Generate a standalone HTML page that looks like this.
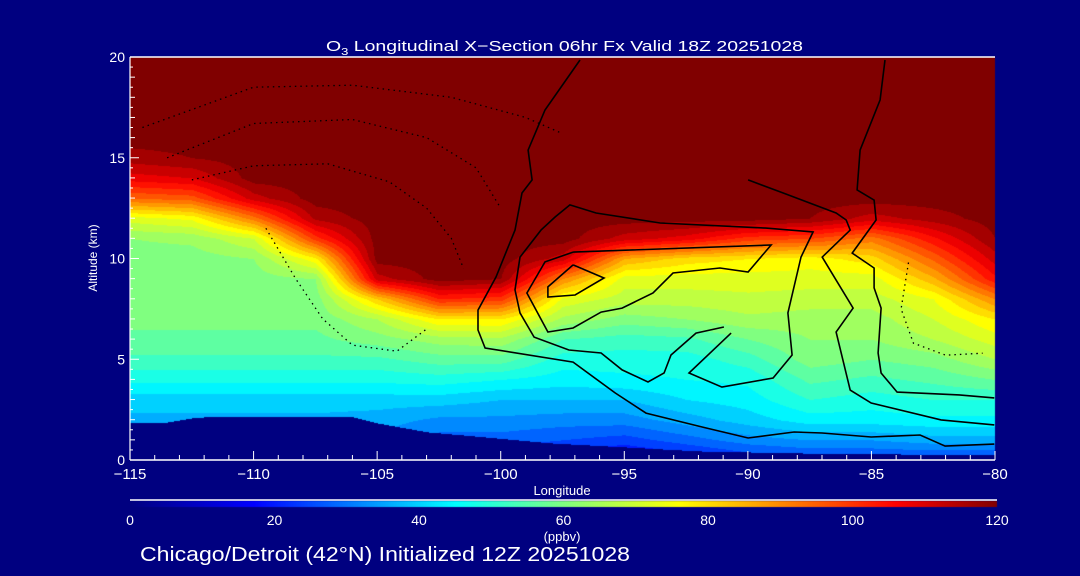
<!DOCTYPE html>
<html><head><meta charset="utf-8">
<style>
html,body{margin:0;padding:0;background:#000080;width:1080px;height:576px;overflow:hidden}
#wrap{position:relative;width:1080px;height:576px}
canvas,svg{position:absolute;left:0;top:0}
text{font-family:"Liberation Sans",sans-serif;fill:#fff}
</style></head>
<body>
<div id="wrap">
<canvas id="field" width="1080" height="576"></canvas>
<svg id="ov" width="1080" height="576"></svg>
</div>
<script>
// ---- data ----
const lons = [-115,-112.5,-110,-107.5,-105,-102.5,-100,-97.5,-95,-92.5,-90,-87.5,-85,-82.5,-80];
const alts = [0,1,2,3,4,5,6,7,8,9,10,11,12,13,14,15,16,17,18,19,20];
const col0  = [30,33,37,40,47,53,57,59,60,60,60,62,72,94,108,116,120,120,120,120,120];
const col1  = [30,33,37,40,47,53,57,59,60,60,60,63,75,96,110,118,120,120,120,120,120];
const col2  = [30,33,37,40,47,53,57,59,60,60,62,70,92,112,120,120,120,120,120,120,120];
const col3  = [30,33,37,40,47,53,57,59,60,62,77,100,115,120,120,120,120,120,120,120,120];
const col4  = [30,33,36,40,47,53,60,66,82,112,120,120,120,120,120,120,120,120,120,120,120];
const col5  = [26,28,33,40,48,56,64,78,102,120,120,120,120,120,120,120,120,120,120,120,120];
const col6  = [24,28,33,38,46,56,65,78,100,118,120,120,120,120,120,120,120,120,120,120,120];
const col7  = [18,26,32,38,44,48,54,65,73,90,112,120,120,120,120,120,120,120,120,120,120];
const col8  = [15,24,32,38,45,48,52,60,68,72,86,112,120,120,120,120,120,120,120,120,120];
const col9  = [18,28,36,42,46,48,53,62,68,72,80,108,120,120,120,120,120,120,120,120,120];
const col10 = [22,32,40,44,47,52,58,65,69,72,78,100,120,120,120,120,120,120,120,120,120];
const col11 = [24,34,44,50,55,60,62,64,68,72,76,98,118,120,120,120,120,120,120,120,120];
const col12 = [24,34,44,48,53,58,62,64,68,72,80,92,112,120,120,120,120,120,120,120,120];
const col13 = [24,36,45,50,55,60,66,70,74,85,95,105,116,120,120,120,120,120,120,120,120];
const col14 = [24,36,45,50,58,66,72,78,90,105,112,118,120,120,120,120,120,120,120,120,120];
const columns = [col0,col1,col2,col3,col4,col5,col6,col7,col8,col9,col10,col11,col12,col13,col14];

const terrainLon = [-115,-113.5,-112.3,-111,-106,-105,-103,-101.5,-98,-95,-92,-88,-80];
const terrainAlt = [1.84,1.88,2.13,2.15,2.15,1.84,1.4,1.24,0.85,0.65,0.45,0.35,0.25];

const c0Lon = [-96.79,-98.21,-98.89,-98.73,-99.14,-99.42,-100.19,-100.92,-100.92,-100.63,-97.07,-95.37,-94.12,-91.85,-89.99,-88.13,-87.0,-85.01,-83.03,-82.02,-80.03];
const c0Alt = [19.85,17.37,15.38,13.9,13.25,11.41,9.08,7.44,6.45,5.56,4.86,3.33,2.33,1.64,1.09,1.39,1.34,1.14,1.24,0.69,0.79];
const c1Lon = [-84.45,-84.65,-85.46,-85.58,-84.89,-84.81,-85.78,-84.89,-84.89,-84.61,-84.73,-84.61,-83.96,-81.45,-80.03];
const c1Alt = [19.85,17.87,15.38,13.4,12.9,11.91,10.27,9.53,8.54,7.54,5.31,4.32,3.37,3.23,3.08];
const c2Lon = [-89.99,-88.57,-86.43,-86.02,-85.86,-86.99,-86.43,-85.74,-86.43,-85.86,-85.01,-82.18,-80.03];
const c2Alt = [13.9,13.25,12.26,11.91,11.41,10.07,8.93,7.54,6.35,3.47,2.83,1.99,1.74];
const c3Lon = [-90.68,-92.38,-91.05,-88.98,-88.21,-88.38,-87.85,-87.36,-89.27,-93.55,-96.14,-97.20,-97.80,-98.37,-99.22,-99.42,-99.22,-98.65,-97.24,-95.94,-95.09,-94.04,-93.39,-93.11,-92.10,-90.97];
const c3Alt = [6.30,4.32,3.62,4.07,5.21,7.30,10.07,11.32,11.51,11.76,12.26,12.66,12.06,11.41,10.07,8.44,7.30,6.10,5.46,5.31,4.47,3.87,4.32,5.21,6.30,6.60];
const c4Lon = [-97.07,-89.06,-89.99,-91.13,-93.03,-93.84,-95.09,-95.94,-97.07,-98.09,-98.94,-98.21,-97.07];
const c4Alt = [10.32,10.67,9.33,9.53,9.28,8.29,7.54,7.34,6.55,6.35,8.29,9.83,10.32];
const c5Lon = [-97.07,-95.82,-96.99,-98.09,-98.09,-97.07];
const c5Alt = [9.68,9.03,8.19,8.09,8.59,9.68];
const d0Lon = [-114.5,-110,-106,-102,-99,-97.5];
const d0Alt = [16.5,18.5,18.6,18.0,17.0,16.2];
const d1Lon = [-113.5,-110,-106,-103,-101,-100];
const d1Alt = [15.0,16.7,16.9,16.0,14.5,12.5];
const d2Lon = [-112.5,-110,-107,-104.5,-103,-102,-101.5];
const d2Alt = [13.9,14.6,14.7,13.8,12.5,11.0,9.5];
const d3Lon = [-109.5,-108.3,-107.2,-106.0,-104.2,-103.0];
const d3Alt = [11.5,9.0,7.0,5.7,5.4,6.5];
const d4Lon = [-83.5,-83.8,-83.3,-82.0,-80.5];
const d4Alt = [9.8,7.5,5.8,5.2,5.3];

// ---- geometry ----
const PL=130, PR=995, PT=57, PB=460;
const xS = lon => PL + (lon+115)/35*(PR-PL);
const yS = alt => PB - alt/20*(PB-PT);

const cStops=[0,17,45,60,76,106,120];
const cCols=[[0,0,128],[0,0,255],[0,255,255],[128,255,128],[255,255,0],[255,0,0],[128,0,0]];
function cmap(v){
  v=Math.max(0,Math.min(120,v));
  for(let i=0;i<cStops.length-1;i++){
    if(v<=cStops[i+1]){const t=(v-cStops[i])/(cStops[i+1]-cStops[i]);
      return cCols[i].map((c,k)=>Math.round(c+(cCols[i+1][k]-c)*t));}
  }
  return cCols[cCols.length-1];
}
function val(lon,alt){
  let i=Math.floor((lon-lons[0])/2.5); i=Math.max(0,Math.min(lons.length-2,i));
  let j=Math.floor(alt); j=Math.max(0,Math.min(alts.length-2,j));
  const tx=Math.max(0,Math.min(1,(lon-lons[i])/2.5)), ty=Math.max(0,Math.min(1,alt-alts[j]));
  const a=columns[i][j],b=columns[i+1][j],c=columns[i][j+1],d=columns[i+1][j+1];
  return (a*(1-tx)+b*tx)*(1-ty)+(c*(1-tx)+d*tx)*ty;
}
function terr(lon){
  for(let i=0;i<terrainLon.length-1;i++){
    if(lon<=terrainLon[i+1]){const t=(lon-terrainLon[i])/(terrainLon[i+1]-terrainLon[i]);return terrainAlt[i]+(terrainAlt[i+1]-terrainAlt[i])*t;}
  }
  return terrainAlt[terrainAlt.length-1];
}
const cv=document.getElementById('field'),ctx=cv.getContext('2d');
ctx.fillStyle='#000080';ctx.fillRect(0,0,1080,576);
const img=ctx.createImageData(PR-PL,PB-PT);
for(let py=0;py<PB-PT;py++){
  const alt=(PB-(PT+py))/(PB-PT)*20;
  for(let px=0;px<PR-PL;px++){
    const lon=-115+px/(PR-PL)*35;
    let c;
    if(alt<terr(lon)) c=[0,0,128];
    else {let v=val(lon,alt); v=Math.round(v/4)*4; c=cmap(v);}
    const k=(py*(PR-PL)+px)*4; img.data[k]=c[0];img.data[k+1]=c[1];img.data[k+2]=c[2];img.data[k+3]=255;
  }
}
ctx.putImageData(img,PL,PT);
const CB0=130,CB1=997;
for(let x=CB0;x<CB1;x++){const c=cmap((x-CB0)/(CB1-CB0)*120);ctx.fillStyle=`rgb(${c[0]},${c[1]},${c[2]})`;ctx.fillRect(x,501,1,6);}

const NS='http://www.w3.org/2000/svg', svg=document.getElementById('ov');
function mk(tag,attrs,txt){const e=document.createElementNS(NS,tag);for(const k in attrs)e.setAttribute(k,attrs[k]);if(txt!==undefined)e.textContent=txt;svg.appendChild(e);return e;}
function poly(ls,as,dash,name){
  const pts=ls.map((l,i)=>xS(l).toFixed(1)+','+yS(as[i]).toFixed(1)).join(' ');
  const e=mk('polyline',{points:pts,fill:'none',stroke:'#000','stroke-width':dash?1.3:1.6,'stroke-dasharray':dash?'1.5,4':'none'});
  
  
}
poly(c0Lon,c0Alt,false,'contour-zero-west');
poly(c1Lon,c1Alt,false,'contour-zero-east');
poly(c2Lon,c2Alt,false,'contour-zero-middle');
poly(c3Lon,c3Alt,false,'contour-ten');
poly(c4Lon,c4Alt,false,'contour-fifteen');
poly(c5Lon,c5Alt,false,'contour-twenty');
poly(d0Lon,d0Alt,true,'contour-minus-ten');
poly(d1Lon,d1Alt,true,'contour-minus-twenty');
poly(d2Lon,d2Alt,true,'contour-minus-thirty');
poly(d3Lon,d3Alt,true,'contour-minus-forty');
poly(d4Lon,d4Alt,true,'contour-minus-ten-east');

let e=mk('line',{x1:PL,y1:PT,x2:PR,y2:PT,stroke:'#fff','stroke-width':1.5});

e=mk('line',{x1:PL,y1:PB,x2:PR,y2:PB,stroke:'#fff','stroke-width':1.5});

e=mk('line',{x1:PL,y1:PT,x2:PL,y2:PB,stroke:'#fff','stroke-width':1.2});

const xTicks=[-115,-110,-105,-100,-95,-90,-85,-80];
const xTickLabels=['\u2212115','\u2212110','\u2212105','\u2212100','\u221295','\u221290','\u221285','\u221280'];
for(let l=-115;l<=-80;l++){const major=(l%5===0);
  e=mk('line',{x1:xS(l),y1:PB,x2:xS(l),y2:PB-(major?9:5),stroke:'#fff','stroke-width':1});
  }
xTicks.forEach((l,i)=>{e=mk('text',{x:xS(l),y:479,'font-size':15,'text-anchor':'middle'},xTickLabels[i]);
  });
const yTicks=[0,5,10,15,20];
for(let a=0;a<=20;a+=0.5){const major=(a%5===0);
  e=mk('line',{x1:PL,y1:yS(a),x2:PL+(major?9:(a%1===0?5:3)),y2:yS(a),stroke:'#fff','stroke-width':1});
  }
yTicks.forEach(a=>{e=mk('text',{x:125,y:yS(a)+5,'font-size':14,'text-anchor':'end'},String(a));
  });
e=mk('text',{x:0,y:0,'font-size':12,'text-anchor':'middle',transform:`translate(97,258) rotate(-90)`},'Altitude (km)');

e=mk('text',{x:562,y:495,'font-size':13,'text-anchor':'middle'},'Longitude');

e=mk('text',{x:326,y:51,'font-size':15,textLength:477,lengthAdjust:'spacingAndGlyphs'});
e.innerHTML='O<tspan font-size="10" dy="4">3</tspan><tspan dy="-4"> Longitudinal X\u2212Section 06hr  Fx Valid 18Z 20251028</tspan>';

e=mk('line',{x1:130,y1:500,x2:997,y2:500,stroke:'#fff','stroke-width':1.5});

const cbTicks=[0,20,40,60,80,100,120];
cbTicks.forEach(v=>{e=mk('text',{x:CB0+v/120*(CB1-CB0),y:525,'font-size':14,'text-anchor':'middle'},String(v));
  });
e=mk('text',{x:562,y:541,'font-size':13,'text-anchor':'middle'},'(ppbv)');

e=mk('text',{x:140,y:561,'font-size':20,textLength:490,lengthAdjust:'spacingAndGlyphs'},'Chicago/Detroit (42\u00B0N) Initialized 12Z 20251028');

</script>
</body></html>
